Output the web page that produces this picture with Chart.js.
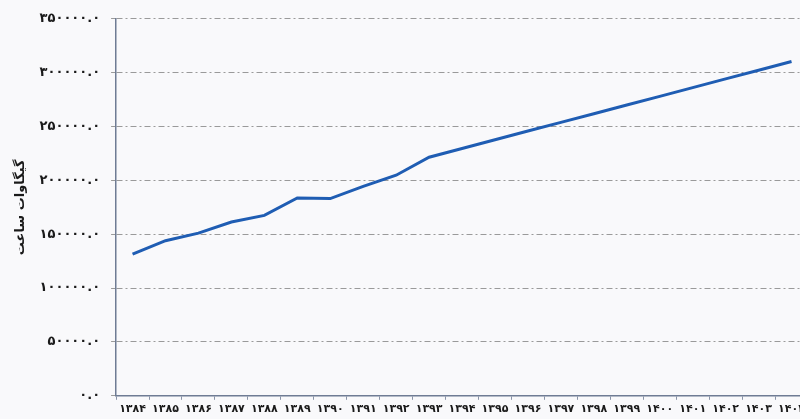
<!DOCTYPE html>
<html>
<head>
<meta charset="utf-8">
<script src="https://cdn.jsdelivr.net/npm/chart.js@4/dist/chart.umd.min.js"></script>
<style>
  html, body { margin: 0; padding: 0; background: #f9f9fb; overflow: hidden; }
  #wrap { width: 808px; height: 419px; }
</style>
</head>
<body>
<div id="wrap"><canvas id="chart"></canvas></div>
<script>
// years (Persian calendar)
const years = ["۱۳۸۴", "۱۳۸۵", "۱۳۸۶", "۱۳۸۷", "۱۳۸۸", "۱۳۸۹", "۱۳۹۰", "۱۳۹۱", "۱۳۹۲", "۱۳۹۳",
  "۱۳۹۴", "۱۳۹۵", "۱۳۹۶", "۱۳۹۷", "۱۳۹۸", "۱۳۹۹", "۱۴۰۰", "۱۴۰۱", "۱۴۰۲", "۱۴۰۳", "۱۴۰۴"];

// energy demand, GWh
const demand = [131500, 144000, 151000, 161300, 167500, 183700, 183100, 194500, 204800, 221500,
  229600, 237700, 245800, 253800, 261900, 270000, 278000, 286100, 294200, 302200, 310300];

const yTickLabels = ["۰.۰", "۵۰۰۰۰.۰", "۱۰۰۰۰۰.۰", "۱۵۰۰۰۰.۰", "۲۰۰۰۰۰.۰", "۲۵۰۰۰۰.۰", "۳۰۰۰۰۰.۰", "۳۵۰۰۰۰.۰"];
const yTitle = "گیگاوات ساعت";

const font = { family: "DejaVu Sans", weight: "bold" };

new Chart(document.getElementById("chart").getContext("2d"), {
  type: "line",
  data: {
    labels: years,
    datasets: [{
      data: demand,
      borderColor: "#1f5db3",
      borderWidth: 3,
      pointRadius: 0,
      fill: false,
      tension: 0,
    }],
  },
  options: {
    responsive: true,
    maintainAspectRatio: false,
    animation: false,
    layout: { padding: { top: 11, left: 9, right: 0, bottom: 0 } },
    plugins: {
      legend: { display: false },
      tooltip: { enabled: false },
    },
    scales: {
      x: {
        offset: true,
        grid: { drawOnChartArea: false, drawTicks: true, tickLength: 4, color: "#8a94a8", offset: true },
        border: { display: true, color: "#6f7c94", width: 1.5 },
        ticks: {
          color: "#1a1a1a",
          font: { ...font, size: 11 },
          maxRotation: 0,
          minRotation: 0,
          autoSkip: false,
          padding: 3,
        },
      },
      y: {
        min: 0,
        max: 350000,
        grid: { color: "#9a9a9a", lineWidth: 1, drawTicks: true, tickLength: 5 },
        border: { display: true, color: "#6f7c94", width: 1.5, dash: [6, 3, 2, 3] },
        ticks: {
          stepSize: 50000,
          color: "#1a1a1a",
          font: { ...font, size: 13 },
          padding: 11,
          callback: (v, i) => yTickLabels[i],
        },
        title: {
          display: true,
          text: yTitle,
          color: "#1a1a1a",
          font: { ...font, size: 13 },
          padding: { bottom: 0 },
        },
      },
    },
  },
});
</script>
</body>
</html>
